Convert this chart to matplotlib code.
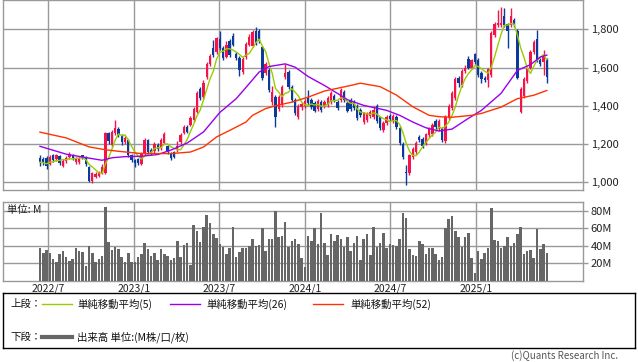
import matplotlib
matplotlib.use('Agg')
import matplotlib.pyplot as plt
import matplotlib.dates as mdates
from matplotlib.lines import Line2D
import numpy as np
import pandas as pd

plt.rcParams['font.family'] = ['Noto Sans CJK JP', 'DejaVu Sans']

# ---------------- data (weekly) ----------------
start_week = '2022-06-13'

open_ = [1125,1120,1125,1095,1140,1120,1135,1085,1110,1130,
         1140,1105,1105,1140,1130,1080,1005,1030,1035,1050,
         1050,1255,1195,1255,1280,1240,1210,1220,1140,1115,
         1120,1095,1150,1220,1170,1165,1195,1180,1205,1190,
         1155,1160,1170,1210,1255,1290,1300,1325,1365,1490,
         1445,1548,1620,1700,1680,1750,1700,1655,1740,1765,
         1670,1650,1575,1655,1720,1715,1790,1790,1705,1570,
         1585,1420,1445,1385,1405,1550,1575,1500,1430,1340,
         1395,1400,1440,1430,1415,1385,1420,1400,1405,1418,
         1450,1420,1430,1470,1415,1430,1420,1400,1380,1315,
         1325,1345,1340,1400,1340,1275,1310,1345,1320,1340,
         1285,1200,1055,1050,1130,1160,1235,1225,1200,1245,
         1250,1320,1280,1282,1215,1335,1390,1440,1545,1510,
         1580,1645,1600,1670,1640,1570,1545,1535,1560,1770,
         1820,1820,1870,1825,1820,1850,1790,1370,1450,1530,
         1600,1680,1750,1640,1630,1640]
close_ = [1105,1100,1085,1130,1115,1140,1100,1110,1125,1145,
          1125,1120,1120,1130,1095,1005,1050,1045,1050,1080,
          1255,1215,1265,1285,1245,1210,1230,1140,1115,1100,
          1100,1150,1220,1160,1150,1200,1175,1220,1250,1160,
          1125,1130,1190,1245,1287,1265,1335,1385,1465,1440,
          1520,1620,1658,1665,1752,1700,1652,1720,1665,1720,
          1650,1585,1645,1725,1760,1785,1730,1740,1545,1620,
          1480,1470,1340,1445,1500,1570,1500,1430,1360,1400,
          1410,1425,1415,1395,1375,1425,1380,1420,1440,1465,
          1430,1390,1485,1430,1375,1385,1390,1335,1350,1360,
          1355,1370,1380,1320,1285,1310,1340,1330,1345,1290,
          1205,1130,1048,1140,1175,1205,1220,1190,1250,1280,
          1300,1290,1320,1220,1340,1400,1465,1540,1520,1580,
          1600,1600,1637,1630,1560,1540,1535,1590,1780,1830,
          1835,1835,1820,1790,1870,1820,1545,1490,1540,1590,
          1680,1735,1640,1620,1660,1550]
high_ = [1140,1130,1135,1140,1150,1150,1140,1120,1135,1160,
         1150,1130,1135,1145,1135,1085,1055,1055,1060,1095,
         1265,1265,1275,1325,1290,1250,1240,1225,1150,1120,
         1125,1160,1230,1225,1180,1210,1205,1230,1265,1195,
         1160,1165,1215,1255,1300,1300,1345,1395,1475,1500,
         1535,1630,1670,1745,1760,1793,1710,1740,1750,1780,
         1680,1660,1655,1735,1775,1795,1810,1800,1715,1630,
         1595,1505,1455,1455,1510,1620,1585,1510,1440,1410,
         1420,1435,1480,1440,1425,1435,1430,1430,1450,1475,
         1460,1430,1495,1480,1425,1440,1430,1410,1390,1370,
         1365,1380,1400,1410,1345,1320,1350,1355,1355,1350,
         1295,1210,1090,1150,1185,1215,1245,1235,1260,1290,
         1310,1330,1330,1290,1350,1410,1475,1550,1555,1590,
         1615,1660,1645,1675,1650,1580,1555,1600,1790,1840,
         1900,1915,1910,1835,1910,1860,1800,1500,1550,1600,
         1690,1745,1795,1650,1690,1650]
low_ = [1085,1090,1070,1090,1105,1110,1090,1080,1100,1120,
        1115,1095,1095,1120,1085,1000,995,1020,1025,1045,
        1045,1200,1185,1245,1235,1195,1200,1130,1105,1080,
        1090,1090,1145,1150,1140,1155,1165,1170,1200,1150,
        1115,1125,1160,1200,1250,1255,1295,1315,1360,1430,
        1435,1540,1610,1655,1670,1690,1640,1650,1655,1710,
        1640,1555,1565,1645,1710,1705,1720,1730,1535,1560,
        1470,1405,1290,1375,1395,1540,1490,1420,1350,1330,
        1380,1390,1405,1385,1365,1375,1370,1390,1395,1410,
        1420,1380,1420,1420,1365,1375,1380,1325,1340,1305,
        1315,1335,1330,1310,1275,1265,1300,1320,1310,1280,
        1195,1120,985,1040,1120,1150,1210,1180,1195,1235,
        1240,1280,1270,1210,1205,1325,1380,1430,1500,1500,
        1570,1590,1590,1620,1550,1520,1525,1500,1550,1760,
        1810,1810,1810,1700,1810,1810,1540,1360,1440,1520,
        1590,1670,1630,1610,1560,1520]
volume_m = [38,32,35,32,25,21,31,34,27,23,
            25,37,34,33,17,40,32,22,25,28,
            84,44,35,39,36,27,21,32,21,21,
            27,31,43,36,28,32,24,36,31,28,
            24,26,46,27,41,43,18,64,57,44,
            61,75,66,53,49,42,39,31,38,61,
            27,33,38,37,40,48,40,41,60,34,
            48,48,80,50,51,67,39,46,48,42,
            26,16,51,46,60,42,78,43,30,53,
            46,52,48,39,50,34,43,51,24,48,
            54,30,62,39,43,55,37,42,41,40,
            48,78,72,36,29,28,45,42,31,38,
            38,31,24,27,60,71,74,57,50,39,
            50,55,26,9,34,25,32,37,83,47,
            45,38,40,50,40,43,54,62,31,34,
            35,26,59,36,42,32]

# moving averages (week number, value)
ma26_week = [0, 8, 13, 19, 22, 26, 31, 36, 40, 45, 50, 55, 60, 63, 67, 70, 75, 78,
             82, 87, 92, 94, 99, 106, 110, 114, 118, 122, 126, 131, 135, 141, 146,
             150, 153, 155]
ma26_val = [1188, 1147, 1132, 1115, 1128, 1134, 1136, 1145, 1168, 1205, 1263, 1365,
            1437, 1496, 1576, 1605, 1619, 1602, 1553, 1506, 1454, 1432, 1402, 1376,
            1350, 1315, 1285, 1268, 1278, 1334, 1376, 1465, 1585, 1615, 1655, 1665]
ma52_week = [0, 8, 15, 20, 24, 31, 40, 46, 50, 54, 58, 63, 65, 69, 72, 77, 82, 87,
             95, 98, 104, 109, 114, 119, 122, 126, 132, 135, 141, 146, 151, 155]
ma52_val = [1262, 1232, 1185, 1170, 1162, 1150, 1150, 1158, 1184, 1237, 1271, 1315,
            1350, 1385, 1400, 1419, 1445, 1477, 1506, 1518, 1500, 1456, 1395, 1350,
            1343, 1340, 1350, 1360, 1393, 1437, 1455, 1480]

price_ticks = [1000, 1200, 1400, 1600, 1800]
vol_ticks = [20, 40, 60, 80]
date_ticks = ['2022-07-01', '2023-01-01', '2023-07-01', '2024-01-01', '2024-07-01', '2025-01-01']
date_labels = ['2022/7', '2023/1', '2023/7', '2024/1', '2024/7', '2025/1']
legend_labels = ['単純移動平均(5)', '単純移動平均(26)', '単純移動平均(52)']

# ---------------- styles ----------------
UP = '#f5134a'
DOWN = '#0b3a9a'
C5 = '#99cc00'
C26 = '#9a00ee'
C52 = '#ff3300'
GRID = '#999999'
VOL = '#666666'

W, H = 638, 362
fig = plt.figure(figsize=(W / 100, H / 100), dpi=100)


def box(l, t, r, b):
    return [l / W, 1 - b / H, (r - l) / W, (b - t) / H]


ax = fig.add_axes(box(3, 0, 583, 190.3))
axv = fig.add_axes(box(3, 201.5, 583, 280.8))

weeks = pd.date_range(start_week, periods=len(close_), freq='7D')
xd = mdates.date2num(weeks)
x0 = xd[0]
o = np.array(open_, float)
c = np.array(close_, float)
hi = np.array(high_, float)
lo = np.array(low_, float)
up = c >= o
cols = np.where(up, UP, DOWN)

ax.vlines(xd, lo, hi, colors=cols, lw=1.0, zorder=3)
body = np.maximum(np.abs(c - o), 4)
ax.bar(xd, body, bottom=np.minimum(o, c), width=5.0, color=cols, linewidth=0, zorder=4)

ma5 = pd.Series(c).rolling(5, min_periods=1).mean().values
ax.plot(xd, ma5, color=C5, lw=1.0, zorder=5)
ax.plot(x0 + np.array(ma26_week) * 7, ma26_val, color=C26, lw=1.0, zorder=5)
ax.plot(x0 + np.array(ma52_week) * 7, ma52_val, color=C52, lw=1.0, zorder=5)

xlim = (x0 - 11.31 * 7, x0 + 166.06 * 7)
tick_x = mdates.date2num(pd.to_datetime(date_ticks))

for a in (ax, axv):
    a.set_xlim(*xlim)
    a.set_xticks(tick_x)
    a.grid(True, color=GRID, lw=1.0)
    a.set_axisbelow(True)
    for s in a.spines.values():
        s.set_color(GRID)
        s.set_linewidth(1.0)
    a.yaxis.tick_right()
    a.tick_params(axis='y', which='both', direction='out', length=3.5, width=1.0,
                  color=GRID, pad=2, labelsize=8, labelcolor='#222222')
    a.tick_params(axis='x', length=0, pad=2, labelsize=7.5, labelcolor='#222222')

ax.set_ylim(958, 1953)
ax.set_yticks(price_ticks)
ax.set_yticklabels([f'{v:,}' for v in price_ticks])
ax.set_xticklabels([])

axv.bar(xd, volume_m, width=5.4, color=VOL, linewidth=0, zorder=3)
axv.set_ylim(0, 90.6)
axv.set_yticks(vol_ticks)
axv.set_yticklabels([f'{v}M' for v in vol_ticks])
axv.set_xticklabels(date_labels)
axv.text(0.007, 0.89, '単位: M', transform=axv.transAxes, fontsize=7.5,
         color='#222222', va='center', ha='left', zorder=6)

# ---------------- legend box ----------------
lg = fig.add_axes(box(3, 293, 635, 348))
lg.set_xlim(3, 635)
lg.set_ylim(348, 293)
lg.set_xticks([])
lg.set_yticks([])
for s in lg.spines.values():
    s.set_color('#000000')
    s.set_linewidth(1.0)
row1, row2 = 304, 337
lg.text(10, row1, '上段：', fontsize=7.5, va='center', ha='left', color='#111111')
for (x1, x2, xt), col, lab in zip([(42, 72, 77), (170, 200, 206), (313, 343, 350)],
                                  [C5, C26, C52], legend_labels):
    lg.add_line(Line2D([x1, x2], [row1, row1], color=col, lw=1.0))
    lg.text(xt, row1, lab, fontsize=7.5, va='center', ha='left', color='#111111')
lg.text(10, row2, '下段：', fontsize=7.5, va='center', ha='left', color='#111111')
lg.add_line(Line2D([42, 72], [row2, row2], color=VOL, lw=3.0))
lg.text(77, row2, '出来高 単位:(M株/口/枚)', fontsize=7.5, va='center', ha='left', color='#111111')

fig.text(618 / W, 1 - 356 / H, '(c)Quants Research Inc.', fontsize=7, color='#555555',
         ha='right', va='center')

fig.savefig('out.png', dpi=100)
